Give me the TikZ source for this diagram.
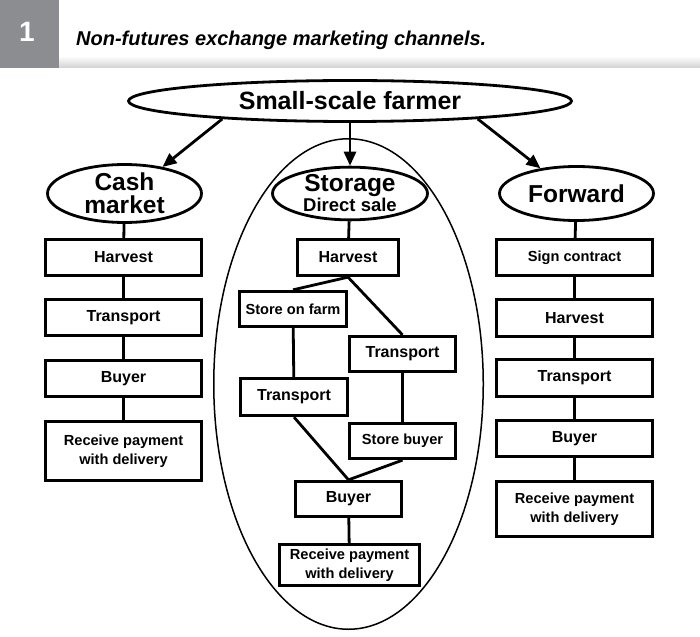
\documentclass[tikz,border=0pt]{standalone}
\usepackage{fontspec}
\setmainfont{Liberation Sans}
\usetikzlibrary{shapes.geometric}
\usetikzlibrary{arrows.meta}
\definecolor{tabgrey}{RGB}{140,141,144}

\begin{document}
\begin{tikzpicture} [
          x=1pt, y=-1pt,
          stepbox/.style = {draw, line width=2.8pt, rectangle, inner sep=0pt, minimum height=36.5pt,
                            font=\bfseries\fontsize{16}{19}\selectfont, align=center},
          side box/.style = {stepbox, minimum width=156pt},
          mid box/.style = {stepbox, minimum width=106.5pt},
          two line/.style = {font=\bfseries\fontsize{14.6}{19}\selectfont},
          channel/.style = {draw, line width=2.8pt, ellipse, inner sep=0pt, minimum width=154pt,
                            minimum height=54pt, font=\bfseries\fontsize{24.5}{23}\selectfont, align=center},
          link/.style = {line width=2.8pt},
          arrow/.style = {line width=2.8pt, -{Triangle[length=14pt,width=12pt]}}
          ]
          \useasboundingbox (0,0) rectangle (700,636);
          % header
          \fill[tabgrey] (0,0) rectangle (59,68);
          \shade[top color=white, bottom color=black!18] (59,56) rectangle (700,68);
          \node[text=white, font=\bfseries\fontsize{28}{28}\selectfont] (tabnum) at (27,32) {1};
          \node[anchor=base west, inner sep=0pt, font=\bfseries\itshape\fontsize{20}{20}\selectfont]
            (title) at (76,46) {Non-futures exchange marketing channels.};

          % the three channels
          \node[draw, line width=1.5pt, ellipse, minimum width=269.5pt, minimum height=490.5pt, inner sep=0pt]
            (storeoval) at (348.5,384) {};
          \node[channel, minimum width=443pt, minimum height=41pt, font=\bfseries\fontsize{25}{25}\selectfont]
            (farmer) at (350,101) {Small-scale farmer};
          \node[channel] (cash) at (124.5,193.5) {Cash\\market};
          \node[channel, minimum width=155pt, minimum height=50pt, font=\bfseries\fontsize{24.5}{20}\selectfont]
            (storage) at (350,193.5) {Storage\\{\fontsize{18.5}{18.5}\selectfont Direct sale}};
          \node[channel] (forward) at (576.5,193.5) {Forward};

          \draw[arrow] (farmer.188) -- (cash.35);
          \draw[arrow] (farmer.south) -- (storage.north);
          \draw[arrow] (farmer.352) -- (forward.145);

          % cash market
          \node[side box] (charvest) at (123.5,257.5) {Harvest};
          \node[side box] (ctransport) at (123.5,317.5) {Transport};
          \node[side box] (cbuyer) at (123.5,378.5) {Buyer};
          \node[side box, two line, minimum height=59.5pt] (cpayment) at (123.5,451) {Receive payment\\with delivery};

          % storage, direct sale
          \node[mid box, minimum width=101.5pt] (sharvest) at (348,257.5) {Harvest};
          \node[mid box, two line, minimum height=35.5pt] (sfarm) at (293,309) {Store on farm};
          \node[mid box, minimum height=35.5pt] (stransport) at (402.5,354) {Transport};
          \node[mid box, minimum height=37.5pt] (sfarmtransport) at (294,397) {Transport};
          \node[mid box, two line, minimum height=35.5pt] (sstorebuyer) at (402.5,441) {Store buyer};
          \node[mid box, minimum height=35.5pt] (sbuyer) at (348.5,499) {Buyer};
          \node[mid box, two line, minimum width=140.5pt, minimum height=41.5pt] (spayment) at (349.5,565)
            {Receive payment\\with delivery};

          % forward
          \node[side box, two line] (fsign) at (574.5,257.5) {Sign contract};
          \node[side box] (fharvest) at (574.5,318) {Harvest};
          \node[side box] (ftransport) at (574.5,378) {Transport};
          \node[side box] (fbuyer) at (574.5,438.5) {Buyer};
          \node[side box, two line, minimum height=55.5pt] (fpayment) at (574.5,509) {Receive payment\\with delivery};

          % links
          \draw[link] (cash) -- (charvest) -- (ctransport) -- (cbuyer) -- (cpayment);
          \draw[link] (forward) -- (fsign) -- (fharvest) -- (ftransport) -- (fbuyer) -- (fpayment);
          \draw[link] (storage) -- (sharvest);
          \draw[link] (sharvest.south) -- (sfarm.north);
          \draw[link] (sharvest.south) -- (stransport.north);
          \draw[link] (sfarm) -- (sfarmtransport);
          \draw[link] (stransport) -- (sstorebuyer);
          \draw[link] (sfarmtransport.south) -- (sbuyer.north);
          \draw[link] (sstorebuyer.south) -- (sbuyer.north);
          \draw[link] (sbuyer) -- (spayment);
        \end{tikzpicture}
\end{document}
